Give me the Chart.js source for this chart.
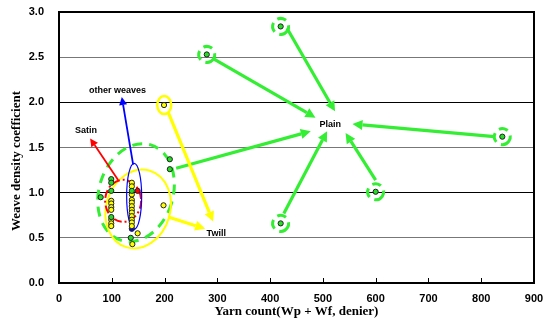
<!DOCTYPE html>
<html><head><meta charset="utf-8">
<script src="https://cdn.jsdelivr.net/npm/chart.js@4/dist/chart.umd.min.js"></script>
<style>html,body{margin:0;padding:0;background:#fff}#wrap{width:547px;height:329px}</style>
</head><body><div id="wrap"><canvas id="c" width="547" height="329"></canvas></div>
<script>
// ---- data (x: yarn count, denier; y: weave density coefficient) ----
const xTicks = [0,100,200,300,400,500,600,700,800,900];
const yTicks = [0.0,0.5,1.0,1.5,2.0,2.5,3.0];

const plainX = [420,280,840,600,420,210,210, 99,99,99,99, 79, 138,136];
const plainY = [2.84,2.53,1.62,1.01,0.66,1.37,1.26, 1.15,1.11,1.02,0.73, 0.95, 1.02,0.50];

const twillX = [199,198, 99,99,99,99,99,99,99, 138,138,138,138,138,138,138,138,138,138,138,138, 149,139];
const twillY = [1.97,0.86, 0.91,0.88,0.84,0.81,0.70,0.66,0.63, 1.11,1.07,0.98,0.92,0.89,0.85,0.81,0.78,0.74,0.70,0.67,0.63, 0.55,0.43];

const satinX = [149];
const satinY = [1.02];

const otherX = [138];
const otherY = [0.60];

// annotation anchors in data units
const labelText = ["Plain","Twill","Satin","other weaves"];
const labelX = [514,298,51,111];
const labelY = [1.75,0.545,1.69,2.13];

const plainArrowFromX = [432,293,825,600,426,222];
const plainArrowFromY = [2.82,2.48,1.62,1.14,0.77,1.27];
const plainArrowToX = [523,486,556,543,508,477];
const plainArrowToY = [1.90,1.83,1.76,1.66,1.68,1.68];
const plainCircleX = [420,280,840,600,420];
const plainCircleY = [2.84,2.53,1.62,1.01,0.66];

const twillArrowFromX = [207,207];
const twillArrowFromY = [1.89,0.73];
const twillArrowToX = [292,277];
const twillArrowToY = [0.68,0.60];

const satinArrow = [112,1.14,59,1.60];
const otherArrow = [140.5,1.31,119,2.06];

// ellipse centres (data units)
const groupCenterX = [146,150,121.5,142.4,199.4];
const groupCenterY = [1.00,0.82,0.91,0.96,1.97];

function toPts(xs, ys){ return xs.map((x,i)=>({x:x,y:ys[i]})); }

const G = '#33ee33', Y = '#ffff00';

function arrow(ctx, x1,y1,x2,y2,color,lw,hl,hw){
  const a = Math.atan2(y2-y1,x2-x1);
  const bx = x2 - hl*Math.cos(a), by = y2 - hl*Math.sin(a);
  ctx.save();
  ctx.strokeStyle=color; ctx.fillStyle=color; ctx.lineWidth=lw; ctx.setLineDash([]);
  ctx.beginPath(); ctx.moveTo(x1,y1); ctx.lineTo(bx,by); ctx.stroke();
  ctx.beginPath(); ctx.moveTo(x2,y2);
  ctx.lineTo(bx + hw*Math.sin(a), by - hw*Math.cos(a));
  ctx.lineTo(bx - hw*Math.sin(a), by + hw*Math.cos(a));
  ctx.closePath(); ctx.fill();
  ctx.restore();
}
function ell(ctx,cx,cy,rx,ry,rot,color,lw,dash){
  ctx.save(); ctx.strokeStyle=color; ctx.lineWidth=lw; ctx.setLineDash(dash);
  ctx.beginPath(); ctx.ellipse(cx,cy,rx,ry,rot,0,Math.PI*2); ctx.stroke(); ctx.restore();
}

const annot = {
  id:'annot',
  beforeDatasetsDraw(chart){
    const ctx = chart.ctx, sx = chart.scales.x, sy = chart.scales.y;
    const X = v=>sx.getPixelForValue(v), Yp = v=>sy.getPixelForValue(v);
    ell(ctx, X(groupCenterX[0]), Yp(groupCenterY[0]), 37, 50, 0.3, G, 3, [10,7]);
    ell(ctx, X(groupCenterX[1]), Yp(groupCenterY[1]), 32, 40, 0.3, Y, 2, []);
    ell(ctx, X(groupCenterX[2]), Yp(groupCenterY[2]), 18, 21, 0, '#ff0000', 2, [8,3,2,3]);
    ell(ctx, X(groupCenterX[3]), Yp(groupCenterY[3]), 7.5, 33, 0, '#0000ff', 1.2, []);
    ell(ctx, X(groupCenterX[4]), Yp(groupCenterY[4]), 7, 9, 0, Y, 2.5, []);
    plainCircleX.forEach((x,i)=>{
      ell(ctx, X(x), Yp(plainCircleY[i]), 8, 8, 0.6, G, 3, [9,5.5]);
    });
    plainArrowFromX.forEach((x,i)=>arrow(ctx, X(x),Yp(plainArrowFromY[i]),X(plainArrowToX[i]),Yp(plainArrowToY[i]),G,3.2,10,5));
    twillArrowFromX.forEach((x,i)=>arrow(ctx, X(x),Yp(twillArrowFromY[i]),X(twillArrowToX[i]),Yp(twillArrowToY[i]),Y,3.2,10,5));
    arrow(ctx, X(satinArrow[0]),Yp(satinArrow[1]),X(satinArrow[2]),Yp(satinArrow[3]),'#ff0000',1.8,8,4);
    arrow(ctx, X(otherArrow[0]),Yp(otherArrow[1]),X(otherArrow[2]),Yp(otherArrow[3]),'#0000ff',1.8,8,4);
  },
  afterDraw(chart){
    const ctx = chart.ctx, sx = chart.scales.x, sy = chart.scales.y, a = chart.chartArea;
    const X = v=>sx.getPixelForValue(v), Yp = v=>sy.getPixelForValue(v);
    ctx.save();
    ctx.fillStyle='#000'; ctx.textAlign='center'; ctx.textBaseline='middle';
    ctx.font='bold 9px "Liberation Sans", Arial, sans-serif';
    labelText.forEach((t,i)=>{ ctx.fillText(t, X(labelX[i]), Yp(labelY[i])); });
    ctx.strokeStyle='#000'; ctx.lineWidth=2;
    ctx.beginPath(); ctx.moveTo(a.left, a.top); ctx.lineTo(a.right, a.top); ctx.lineTo(a.right, a.bottom); ctx.stroke();
    ctx.lineWidth=1;
    xTicks.forEach(v=>{ const p=Math.round(X(v))+0.5; ctx.beginPath(); ctx.moveTo(p,a.bottom); ctx.lineTo(p,a.bottom-5); ctx.stroke(); });
    ctx.font='bold 13px "Liberation Serif", "Times New Roman", serif';
    ctx.fillText('Yarn count(Wp + Wf, denier)', (a.left+a.right)/2, 312);
    ctx.translate(17,161); ctx.rotate(-Math.PI/2);
    ctx.fillText('Weave density coefficient', 0, 0);
    ctx.restore();
  }
};

const ptStyle = {pointRadius:2.6, pointHoverRadius:2.6, borderWidth:1, borderColor:'#222', showLine:false};

new Chart(document.getElementById('c'), {
  type:'scatter',
  data:{ datasets:[
    Object.assign({label:'Plain', data:toPts(plainX,plainY), backgroundColor:'#22dd22'}, ptStyle),
    Object.assign({label:'Twill', data:toPts(twillX,twillY), backgroundColor:'#ffff00'}, ptStyle),
    Object.assign({label:'Satin', data:toPts(satinX,satinY), backgroundColor:'#ff0000'}, ptStyle),
    Object.assign({label:'other weaves', data:toPts(otherX,otherY), backgroundColor:'#0000ff'}, ptStyle)
  ]},
  options:{
    responsive:false, animation:false, devicePixelRatio:1,
    layout:{padding:{top:12,right:13,left:0,bottom:0}},
    plugins:{legend:{display:false}, tooltip:{enabled:false}},
    scales:{
      x:{ type:'linear', min:0, max:900,
        afterBuildTicks(s){ s.ticks = xTicks.map(v=>({value:v})); },
        afterFit(s){ s.height = 46; },
        grid:{display:true, color:'transparent', drawTicks:true, tickLength:9, tickColor:'transparent'},
        border:{display:true, color:'#000', width:2},
        ticks:{ padding:0, color:'#000', font:{family:'"Liberation Sans", Arial, sans-serif', size:11, weight:'bold'}, maxRotation:0 }
      },
      y:{ type:'linear', min:0, max:3,
        afterBuildTicks(s){ s.ticks = yTicks.map(v=>({value:v})); },
        afterFit(s){ s.width = 59; },
        grid:{ drawTicks:true, tickLength:15, tickColor:'transparent', color:c=> (c.tick && Math.abs(c.tick.value % 1) < 1e-6) ? '#000' : '#777', lineWidth:1 },
        border:{display:true, color:'#000', width:2},
        ticks:{ padding:0, color:'#000', font:{family:'"Liberation Sans", Arial, sans-serif', size:11, weight:'bold'}, callback:v=>Number(v).toFixed(1) }
      }
    }
  },
  plugins:[annot]
});
</script></body></html>
